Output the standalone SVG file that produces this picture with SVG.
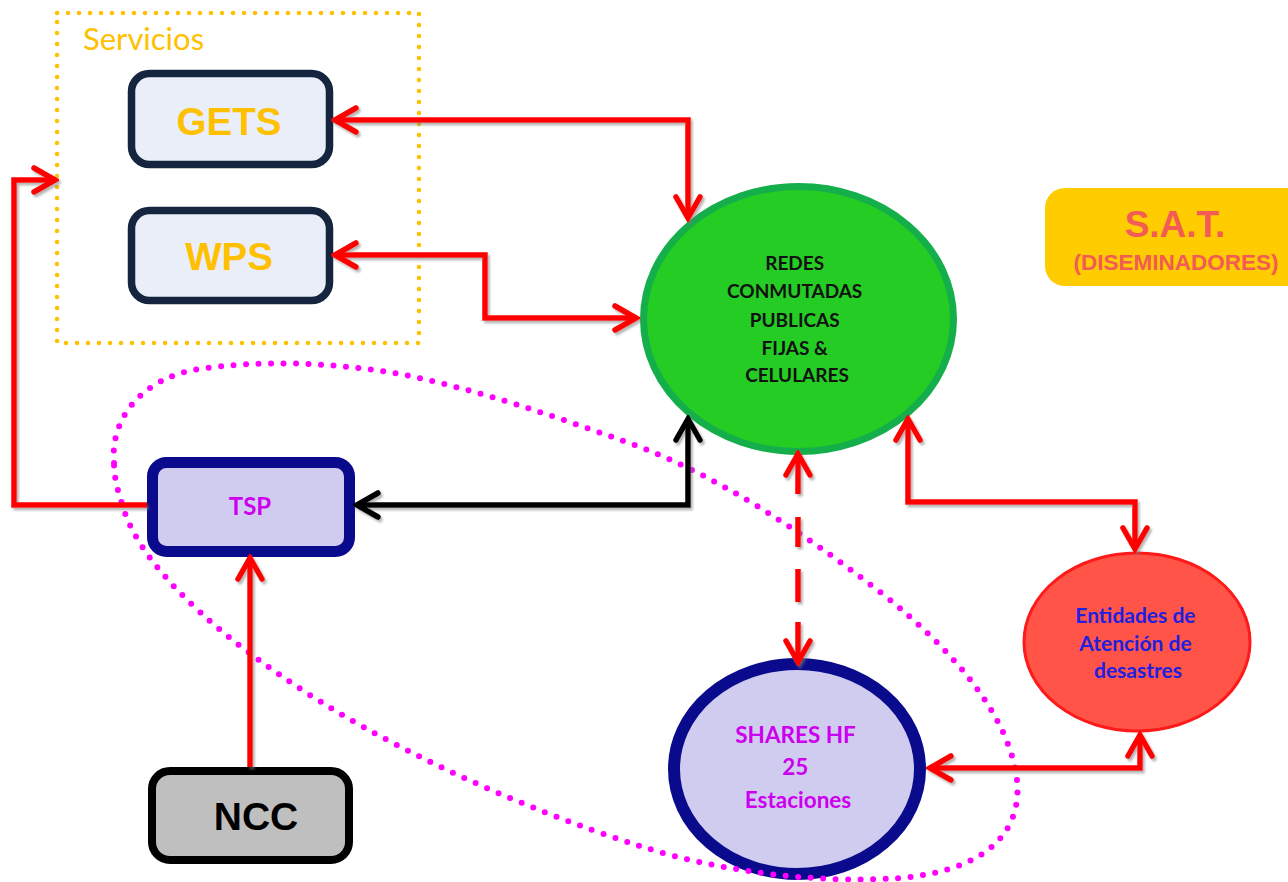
<svg xmlns="http://www.w3.org/2000/svg" width="1288" height="882" viewBox="0 0 1288 882">
<defs>
<style>
.cal{font-family:Lato,"Open Sans","DejaVu Sans",sans-serif;font-weight:bold;text-anchor:middle}
.ari{font-family:"Liberation Sans",Arial,sans-serif;font-weight:bold;text-anchor:middle}
.red{fill:none;stroke:#FF0000;stroke-width:5.5;stroke-linejoin:miter}
.blk{fill:none;stroke:#000000;stroke-width:5.5}
.svcbox{fill:#E9EEF8;stroke:#15253F;stroke-width:7.5}
</style>
<marker id="ah" viewBox="-26 -16 30 32" refX="0" refY="0" markerWidth="30" markerHeight="32" markerUnits="userSpaceOnUse" orient="auto-start-reverse">
<path d="M -21 -12 L 0 0 L -21 12" fill="none" stroke="#FF0000" stroke-width="5.5" stroke-linecap="round" stroke-linejoin="miter"/>
</marker>
<marker id="ahk" viewBox="-26 -16 30 32" refX="0" refY="0" markerWidth="30" markerHeight="32" markerUnits="userSpaceOnUse" orient="auto-start-reverse">
<path d="M -21 -12 L 0 0 L -21 12" fill="none" stroke="#000000" stroke-width="5.5" stroke-linecap="round" stroke-linejoin="miter"/>
</marker>
<filter id="sh" x="-10%" y="-10%" width="120%" height="120%">
<feDropShadow dx="2" dy="2.5" stdDeviation="1" flood-color="#777777" flood-opacity="0.55"/>
</filter>
</defs>
<rect width="1288" height="882" fill="#FFFFFF"/>

<g id="servicios">
<rect x="57" y="13" width="362" height="330" fill="none" stroke="#FFC000" stroke-width="4.5" stroke-dasharray="0 11" stroke-linecap="round"/>
<text x="83" y="50" font-family="Lato,'Open Sans',sans-serif" font-size="31" fill="#FFC000">Servicios</text>
</g>

<g id="gets">
<rect class="svcbox" x="131.5" y="73.5" width="198" height="91" rx="18"/>
<text class="ari" x="229" y="135" font-size="38.5" fill="#FFC000">GETS</text>
</g>

<g id="wps">
<rect class="svcbox" x="131.5" y="210.5" width="198" height="90" rx="18"/>
<text class="ari" x="229" y="270" font-size="38.5" fill="#FFC000">WPS</text>
</g>

<g id="redes">
<ellipse cx="798.5" cy="319" rx="155" ry="132.5" fill="#24CC24" stroke="#14AE4A" stroke-width="7"/>
<text class="cal" font-size="19" fill="#111111">
<tspan x="797" y="270">REDES</tspan>
<tspan x="797" y="298">CONMUTADAS</tspan>
<tspan x="797" y="327">PUBLICAS</tspan>
<tspan x="797" y="355">FIJAS &amp;</tspan>
<tspan x="797" y="382">CELULARES</tspan>
</text>
</g>

<g id="sat">
<rect x="1045" y="188" width="270" height="98" rx="20" fill="#FFCC00"/>
<text class="ari" x="1175" y="237" font-size="37" fill="#F25C54">S.A.T.</text>
<text class="ari" x="1176" y="270" font-size="22.5" fill="#F25C54">(DISEMINADORES)</text>
</g>

<g id="tsp">
<rect x="152.5" y="462.5" width="197" height="89" rx="14" fill="#D0CCF0" stroke="#0A0A8C" stroke-width="11"/>
<text class="cal" x="250" y="515" font-size="24" fill="#CC00EE">TSP</text>
</g>

<g id="ncc">
<rect x="152" y="771" width="197" height="89" rx="18" fill="#BFBFBF" stroke="#000000" stroke-width="8"/>
<text class="ari" x="256" y="830" font-size="39" fill="#000000">NCC</text>
</g>

<g id="shares">
<ellipse cx="797" cy="769" rx="123" ry="105" fill="#D0CCF0" stroke="#0A0A8C" stroke-width="12"/>
<text class="cal" font-size="22.5" fill="#CC00EE">
<tspan x="798" y="743">SHARES HF</tspan>
<tspan x="798" y="775">25</tspan>
<tspan x="798" y="808">Estaciones</tspan>
</text>
</g>

<g id="entidades">
<ellipse cx="1137" cy="642" rx="113" ry="89" fill="#FF5447" stroke="#FF1A1A" stroke-width="3"/>
<text class="cal" font-size="21" fill="#2020E0">
<tspan x="1138" y="623">Entidades de</tspan>
<tspan x="1138" y="651">Atención de</tspan>
<tspan x="1138" y="678">desastres</tspan>
</text>
</g>

<g id="grupo-hf">
<path d="M 114 463 C 110 420, 140 378, 200 369 C 260 360, 330 362, 400 374 C 480 390, 560 418, 640 447 C 720 478, 800 530, 880 592 C 960 655, 1010 720, 1017 780 C 1022 830, 990 870, 900 878 C 820 884, 720 872, 640 846 C 520 808, 380 745, 280 675 C 200 620, 140 560, 124 510 C 118 492, 114 478, 114 463 Z" fill="none" stroke="#FF00FF" stroke-width="6" stroke-dasharray="0 12.5" stroke-linecap="round"/>
</g>

<g id="connectors" filter="url(#sh)">
<path class="red" d="M 335 120 H 688 V 218" marker-start="url(#ah)" marker-end="url(#ah)"/>
<path class="red" d="M 335 255 H 485 V 318 H 636" marker-start="url(#ah)" marker-end="url(#ah)"/>
<path class="red" d="M 147 505 H 14 V 180 H 55" marker-end="url(#ah)"/>
<path class="blk" d="M 357 505 H 688 V 419" marker-start="url(#ahk)" marker-end="url(#ahk)"/>
<path class="red" d="M 250 767 V 558" marker-end="url(#ah)"/>
<path class="red" d="M 798 454 V 662" stroke-width="7" stroke-dasharray="40 23 30 22 33 20 45" marker-start="url(#ah)" marker-end="url(#ah)"/>
<path class="red" d="M 908 419 V 502 H 1135 V 549" marker-start="url(#ah)" marker-end="url(#ah)"/>
<path class="red" d="M 930 768 H 1140 V 735" marker-start="url(#ah)" marker-end="url(#ah)"/>
</g>
</svg>
